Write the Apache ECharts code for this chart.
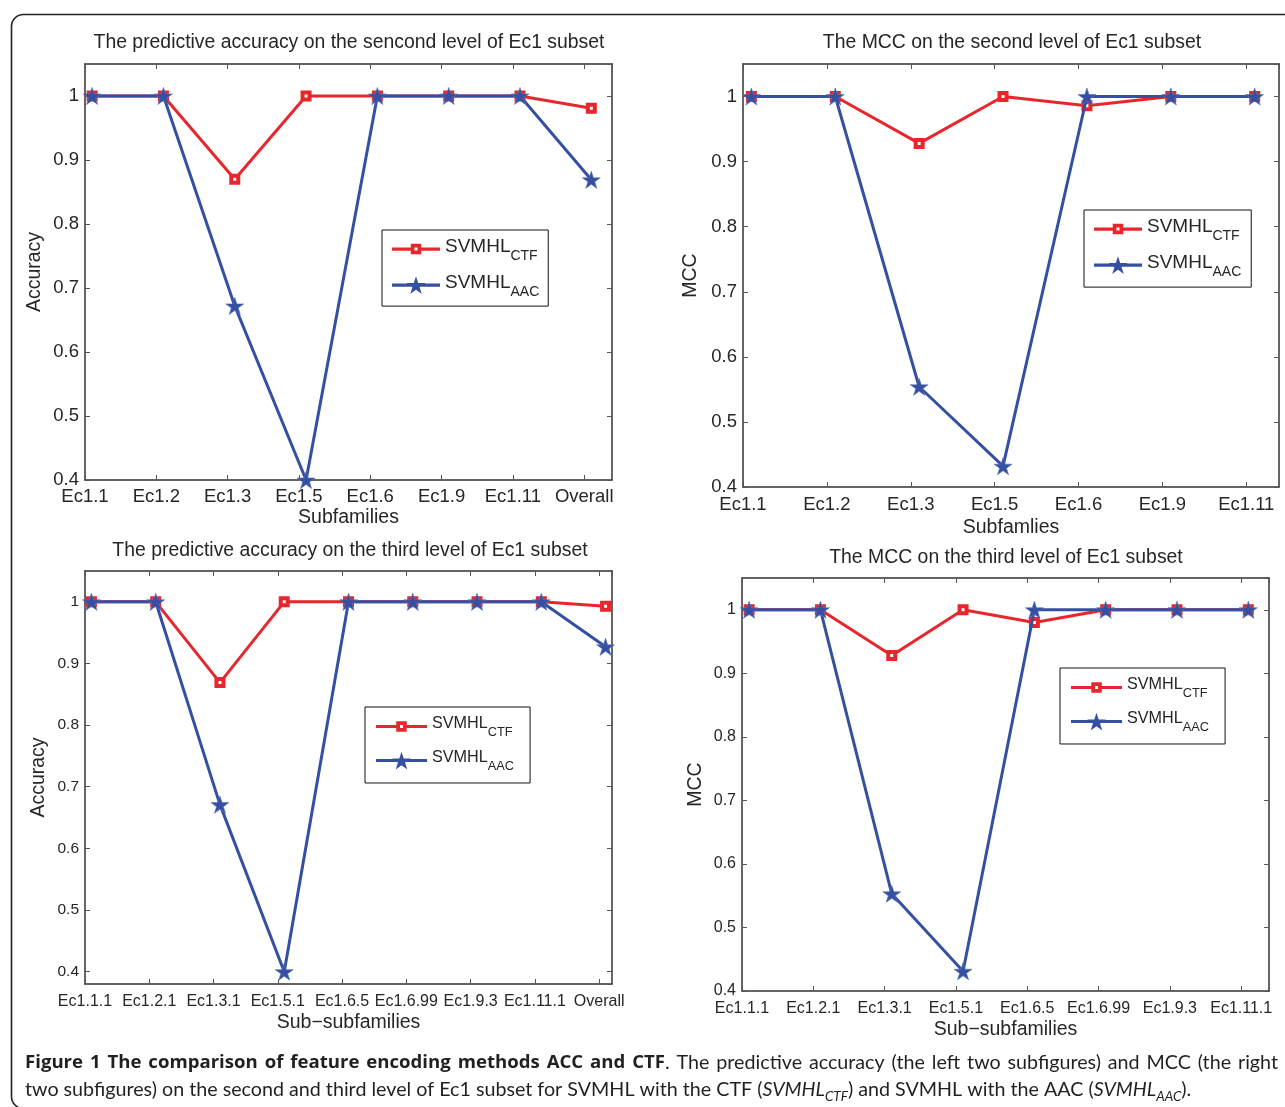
<!DOCTYPE html>
<html><head><meta charset="utf-8">
<script src="https://cdn.jsdelivr.net/npm/echarts@6/dist/echarts.min.js"></script>
<style>html,body{margin:0;padding:0;background:#fff}#c{width:1285px;height:1107px}</style>
</head><body><div id="c"></div>
<script>
// ---------- data ----------
const catsL2 = ['Ec1.1','Ec1.2','Ec1.3','Ec1.5','Ec1.6','Ec1.9','Ec1.11','Overall'];
const accL2_CTF = [1, 1, 0.87, 1, 1, 1, 1, 0.981];
const accL2_AAC = [1, 1, 0.672, 0.4, 1, 1, 1, 0.869];

const catsL2mcc = ['Ec1.1','Ec1.2','Ec1.3','Ec1.5','Ec1.6','Ec1.9','Ec1.11'];
const mccL2_CTF = [1, 1, 0.928, 1, 0.986, 1, 1];
const mccL2_AAC = [1, 1, 0.554, 0.432, 1, 1, 1];

const catsL3 = ['Ec1.1.1','Ec1.2.1','Ec1.3.1','Ec1.5.1','Ec1.6.5','Ec1.6.99','Ec1.9.3','Ec1.11.1','Overall'];
const accL3_CTF = [1, 1, 0.869, 1, 1, 1, 1, 1, 0.993];
const accL3_AAC = [1, 1, 0.671, 0.4, 1, 1, 1, 1, 0.927];

const catsL3mcc = ['Ec1.1.1','Ec1.2.1','Ec1.3.1','Ec1.5.1','Ec1.6.5','Ec1.6.99','Ec1.9.3','Ec1.11.1'];
const mccL3_CTF = [1, 1, 0.928, 1, 0.980, 1, 1, 1];
const mccL3_AAC = [1, 1, 0.553, 0.431, 1, 1, 1, 1];

const seriesNames = ['SVMHL_CTF', 'SVMHL_AAC'];

// ---------- style ----------
const FONT = '"Liberation Sans", Arial, Helvetica, sans-serif';
const CAPFONT = 'Lato, "Open Sans", sans-serif';
const CAPBOLD = '"Open Sans", Lato, sans-serif';
const RED = '#E8262C', BLUE = '#3550A2', AX = '#333333', TXT = '#262626';
const STAR = 'path://M50,0L61.23,34.55L97.55,34.55L68.17,55.9L79.39,90.45L50,69.1L20.61,90.45L31.83,55.9L2.45,34.55L38.77,34.55Z';

// legend icon paths (line + marker), sized in the legend item box W x H
function dotBox(W, H) { return 'M0,0h0.02v0.02h-0.02Z M0,' + (H - 0.02) + 'h0.02v0.02h-0.02Z '; }
function ctfIcon(W, H, sq, hole, lw) {
  const cy = H / 2, a = cy - lw / 2, b = cy + lw / 2;
  const x0 = (W - sq) / 2, x1 = x0 + sq, y0 = cy - sq / 2, y1 = cy + sq / 2;
  const hx0 = W / 2 - hole / 2, hx1 = W / 2 + hole / 2, hy0 = cy - hole / 2, hy1 = cy + hole / 2;
  return 'path://' + dotBox(W, H) +
    `M0,${a}H${x0}V${b}H0Z M${x1},${a}H${W}V${b}H${x1}Z ` +
    `M${x0},${y0}H${x1}V${y1}H${x0}Z M${hx0},${hy0}V${hy1}H${hx1}V${hy0}Z`;
}
function aacIcon(W, H, R, lw) {
  const cy = H / 2 + R * 0.1, a = H / 2 - lw / 2, b = H / 2 + lw / 2, cx = W / 2, r = R * 0.382;
  let s = '';
  for (let k = 0; k < 10; k++) {
    const ang = (-90 + k * 36) * Math.PI / 180, rr = k % 2 ? r : R;
    s += (k ? 'L' : 'M') + (cx + rr * Math.cos(ang)).toFixed(3) + ',' + (cy + rr * Math.sin(ang)).toFixed(3);
  }
  return 'path://' + dotBox(W, H) + `M0,${a}H${W}V${b}H0Z ` + s + 'Z';
}

const panels = [
  { cats: catsL2, ctf: accL2_CTF, aac: accL2_AAC, xmax: 8.29, ymin: 0.4,
    grid: {left: 85, top: 64, width: 527, height: 416},
    title: 'The predictive accuracy on the sencond level of Ec1 subset', tx: 349, ty: 33,
    xname: 'Subfamilies', yname: 'Accuracy', fs: 18.5, lfs: 18.5, nameGapX: 28, nameGapY: 40, lblMarginX: 7.5,
    legend: {left: 382, top: 230}, legFs: 19, legSub: 14, legW: 48, legPad: [7, 9, 7, 10], legGap: 10 },
  { cats: catsL2mcc, ctf: mccL2_CTF, aac: mccL2_AAC, xmax: 7.29, ymin: 0.4,
    grid: {left: 743, top: 64, width: 536, height: 423},
    title: 'The MCC on the second level of Ec1 subset', tx: 1012, ty: 33,
    xname: 'Subfamlies', yname: 'MCC', fs: 18.5, lfs: 18.5, nameGapX: 31, nameGapY: 42, lblMarginX: 8,
    legend: {left: 1084, top: 210}, legFs: 19, legSub: 14, legW: 48, legPad: [7, 10, 8, 10], legGap: 10 },
  { cats: catsL3, ctf: accL3_CTF, aac: accL3_AAC, xmax: 9.1, ymin: 0.38,
    grid: {left: 85, top: 571, width: 527, height: 413},
    title: 'The predictive accuracy on the third level of Ec1 subset', tx: 350, ty: 541,
    xname: 'Sub\u2212subfamilies', yname: 'Accuracy', fs: 16, lfs: 15.5, nameGapX: 29, nameGapY: 36, lblMarginX: 10,
    legend: {left: 365, top: 707}, legFs: 16.2, legSub: 12.8, legW: 51, legPad: [9, 16, 10, 11], legGap: 11 },
  { cats: catsL3mcc, ctf: mccL3_CTF, aac: mccL3_AAC, xmax: 8.29, ymin: 0.4,
    grid: {left: 742, top: 578, width: 527, height: 413},
    title: 'The MCC on the third level of Ec1 subset', tx: 1006, ty: 548,
    xname: 'Sub\u2212subfamilies', yname: 'MCC', fs: 16, lfs: 16, nameGapX: 29, nameGapY: 36, lblMarginX: 10,
    legend: {left: 1060, top: 668}, legFs: 16.2, legSub: 12.8, legW: 51, legPad: [9, 16, 10, 11], legGap: 11 }
];

const option = {
  animation: false,
  backgroundColor: '#ffffff',
  textStyle: { fontFamily: FONT },
  title: [], grid: [], xAxis: [], yAxis: [], series: [], legend: [],
  graphic: []
};

panels.forEach((p, k) => {
  option.grid.push(Object.assign({ containLabel: false }, p.grid));
  option.title.push({
    text: p.title, left: p.tx, top: p.ty, textAlign: 'center', padding: 0,
    textStyle: { fontFamily: FONT, fontSize: 19.4, fontWeight: 'normal', color: TXT }
  });
  const tick = { show: true, inside: true, length: 5, lineStyle: { color: '#555', width: 1 } };
  const line = { show: true, lineStyle: { color: AX, width: 1.5 } };
  const cats = p.cats;
  option.xAxis.push({
    type: 'value', gridIndex: k, position: 'bottom', min: 0.9, max: p.xmax, interval: 1,
    axisLine: line, axisTick: tick, splitLine: { show: false },
    axisLabel: { show: true, fontSize: p.fs, color: TXT, fontFamily: FONT, margin: p.lblMarginX,
      showMaxLabel: false,
      formatter: v => { const i = Math.round(v - 0.9); return (Math.abs(v - 0.9 - i) < 1e-6 && cats[i]) ? cats[i] : ''; } },
    name: p.xname, nameLocation: 'middle', nameGap: p.nameGapX,
    nameTextStyle: { fontSize: 19.5, color: TXT, fontFamily: FONT }
  });
  option.yAxis.push({
    type: 'value', gridIndex: k, position: 'left', min: p.ymin, max: 1.05,
    splitNumber: 7, minInterval: 0.1, maxInterval: 0.1,
    axisLine: line, axisTick: tick, splitLine: { show: false },
    axisLabel: { show: true, fontSize: p.lfs, color: TXT, fontFamily: FONT, margin: 6,
      showMaxLabel: false, showMinLabel: p.ymin === 0.4 },
    name: p.yname, nameLocation: 'middle', nameGap: p.nameGapY, nameRotate: 90,
    nameTextStyle: { fontSize: 19.5, color: TXT, fontFamily: FONT }
  });
  option.series.push({
    name: seriesNames[0], type: 'line', xAxisIndex: k, yAxisIndex: k,
    data: p.ctf.map((v, i) => [i + 1, v]),
    symbol: 'rect', symbolSize: 7, showAllSymbol: true,
    lineStyle: { color: RED, width: 3 },
    itemStyle: { color: '#ffffff', borderColor: RED, borderWidth: 4 },
    emphasis: { disabled: true }, z: 2
  });
  option.series.push({
    name: seriesNames[1], type: 'line', xAxisIndex: k, yAxisIndex: k,
    data: p.aac.map((v, i) => [i + 1, v]),
    symbol: STAR, symbolSize: 18, symbolKeepAspect: true, showAllSymbol: true,
    lineStyle: { color: BLUE, width: 3 },
    itemStyle: { color: BLUE, borderColor: '#5a72b8', borderWidth: 0.6 },
    emphasis: { disabled: true }, z: 3
  });
  const H = 18;
  option.legend.push({
    left: p.legend.left, top: p.legend.top, orient: 'vertical',
    data: [
      { name: seriesNames[0], icon: ctfIcon(p.legW, H, 10.5, 3, 3.2), itemStyle: { color: RED, borderWidth: 0 } },
      { name: seriesNames[1], icon: aacIcon(p.legW, H, 9.8, 3.2), itemStyle: { color: BLUE, borderWidth: 0 } }
    ],
    itemWidth: p.legW, itemHeight: H, itemGap: p.legGap,
    padding: p.legPad, backgroundColor: '#ffffff', borderColor: '#111', borderWidth: 1,
    selectedMode: false,
    formatter: n => '{m|SVMHL}{s|' + n.split('_')[1] + '}',
    textStyle: {
      rich: {
        m: { fontSize: p.legFs, fontFamily: FONT, color: TXT, verticalAlign: 'top', padding: [2, 0, 0, 0] },
        s: { fontSize: p.legSub, fontFamily: FONT, color: TXT, verticalAlign: 'top', padding: [p.legFs * 0.74, 0, 0, 0] }
      }
    }
  });
});

// top / right axes for the MATLAB-like box ticks
panels.forEach((p, k) => {
  const tick = { show: true, inside: true, length: 5, lineStyle: { color: '#555', width: 1 } };
  const line = { show: true, lineStyle: { color: AX, width: 1.5 } };
  option.xAxis.push({ type: 'value', gridIndex: k, position: 'top', min: 0.9, max: p.xmax, interval: 1,
    axisLine: line, axisTick: tick, axisLabel: { show: false }, splitLine: { show: false } });
  option.yAxis.push({ type: 'value', gridIndex: k, position: 'right', min: p.ymin, max: 1.05,
    splitNumber: 7, minInterval: 0.1, maxInterval: 0.1,
    axisLine: line, axisTick: tick, axisLabel: { show: false }, splitLine: { show: false } });
});

// ---------- caption (line 1 justified between the frame margins) ----------
const capLine1 = [
  [['Figure', 'b']], [['1', 'b']], [['The', 'b']], [['comparison', 'b']], [['of', 'b']], [['feature', 'b']],
  [['encoding', 'b']], [['methods', 'b']], [['ACC', 'b']], [['and', 'b']], [['CTF', 'b'], ['.', 'r']],
  [['The', 'r']], [['predictive', 'r']], [['accuracy', 'r']], [['(the', 'r']], [['left', 'r']], [['two', 'r']],
  [['subfigures)', 'r']], [['and', 'r']], [['MCC', 'r']], [['(the', 'r']], [['right', 'r']]
];
const CAP_FS = 19.7, CAPB_FS = 18.6;
const capFonts = { b: `bold ${CAPB_FS}px ${CAPBOLD}`, r: `normal ${CAP_FS}px ${CAPFONT}` };
const mctx = document.createElement('canvas').getContext('2d');
function tw(t, st) { mctx.font = capFonts[st]; return mctx.measureText(t).width; }
const capLeft = 25, capRight = 1278, capY1 = 1063;
const groupW = capLine1.map(g => g.reduce((s, [t, st]) => s + tw(t, st), 0));
const totalW = groupW.reduce((a, b) => a + b, 0);
const gapW = Math.max(tw(' ', 'r') * 0.6, (capRight - capLeft - totalW) / (capLine1.length - 1));
const capChildren = [];
let cx = capLeft;
capLine1.forEach((g, gi) => {
  g.forEach(([t, st]) => {
    capChildren.push({ type: 'text', x: cx, y: capY1, silent: true,
      style: { text: t, fill: '#231f20', verticalAlign: 'middle', align: 'left',
        fontFamily: st === 'b' ? CAPBOLD : CAPFONT, fontWeight: st === 'b' ? 'bold' : 'normal',
        fontSize: st === 'b' ? CAPB_FS : CAP_FS } });
    cx += tw(t, st);
  });
  cx += gapW;
});

option.graphic = [
  { type: 'rect', left: 9, top: 12, silent: true,
    shape: { width: 1320, height: 1094, r: 12 },
    style: { fill: 'none', stroke: '#222', lineWidth: 1.6 } },
  { type: 'group', silent: true, children: capChildren },
  { type: 'text', left: 25, top: 1080, silent: true,
    style: {
      text: '{r|two subfigures) on the second and third level of Ec1 subset for SVMHL with the CTF (}{i|SVMHL}{s|CTF}{r|) and SVMHL with the AAC (}{i|SVMHL}{s|AAC}{r|).}',
      rich: {
        r: { fontFamily: CAPFONT, fontSize: CAP_FS, fill: '#231f20', verticalAlign: 'top' },
        i: { fontFamily: CAPFONT, fontSize: CAP_FS, fontStyle: 'italic', fill: '#231f20', verticalAlign: 'top' },
        s: { fontFamily: CAPFONT, fontSize: 13.5, fontStyle: 'italic', fill: '#231f20', verticalAlign: 'top', padding: [10, 0, 0, 0] }
      }
    } }
];

const chart = echarts.init(document.getElementById('c'), null, { renderer: 'canvas' });
chart.setOption(option);
</script></body></html>
